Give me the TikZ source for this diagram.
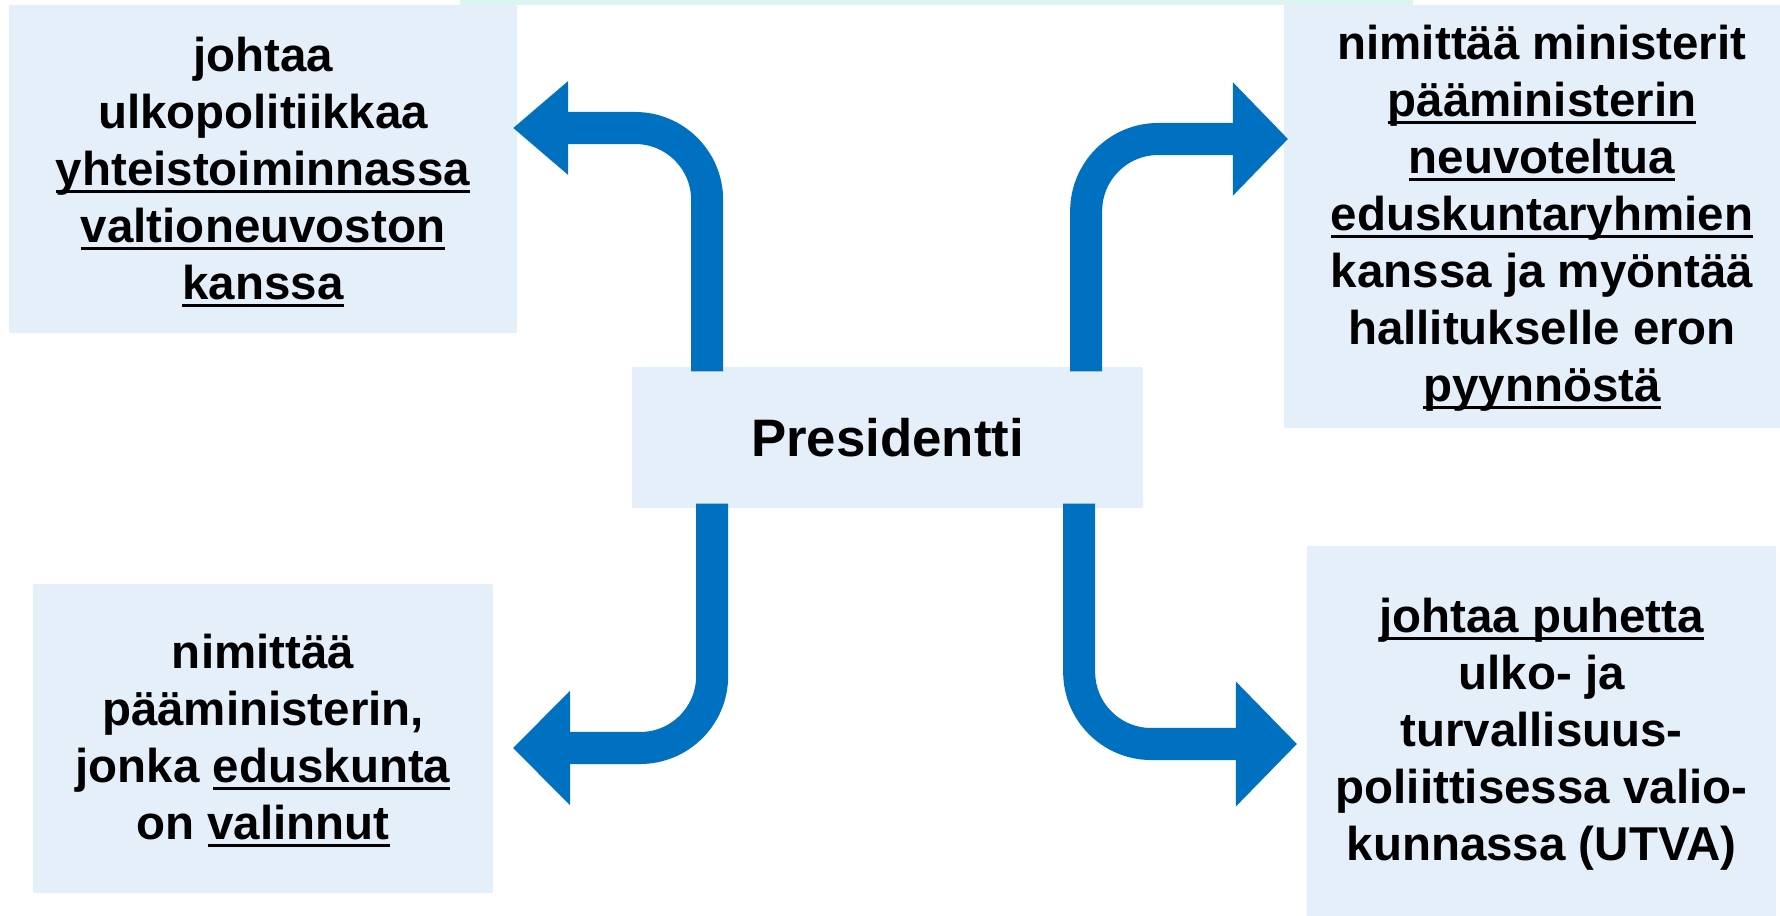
\documentclass[tikz,border=0pt]{standalone}
\usepackage{fontspec}
\setmainfont{Liberation Sans}
\usetikzlibrary{arrows.meta,calc}
\definecolor{boxblue}{HTML}{E4EFF9}
\definecolor{arrblue}{HTML}{0070C0}
\definecolor{mint}{HTML}{DDF5F0}
\newcommand\ul[1]{\setbox0\hbox{#1}\rlap{\rule[-0.16em]{\wd0}{0.065em}}\box0}
\begin{document}
\begin{tikzpicture}[x=0.01cm,y=-0.01cm,
  box/.style={fill=boxblue, inner sep=0pt, rounded corners=0.02cm},
  txt/.style={inner sep=0pt, align=center,
    font=\fontsize{13.5pt}{16.2pt}\selectfont\bfseries},
  arr/.style={draw=arrblue, line width=0.32cm, rounded corners=0.72cm}]
\useasboundingbox (0,0) rectangle (1780,916);
\fill[mint] (460,0) rectangle (1413,5);
% boxes
\node[box, minimum width=5.08cm, minimum height=3.28cm] (tl) at (263,169) {};
\node[box, minimum width=5.16cm, minimum height=4.23cm] (tr) at (1542,216.5) {};
\node[box, minimum width=4.60cm, minimum height=3.09cm] (bl) at (263,738.5) {};
\node[box, minimum width=4.69cm, minimum height=3.90cm] (br) at (1541.5,741) {};
\node[box, minimum width=5.11cm, minimum height=1.41cm] (p) at (887.5,437.5) {};
% texts
\node[txt] (tlt) at (tl.center |- 0,172.3)
  {johtaa\\ulkopolitiikkaa\\\ul{yhteistoiminnassa}\\\ul{valtioneuvoston}\\\ul{kanssa}};
\node[txt] (trt) at (tr.center |- 0,218.5)
  {nimittää ministerit\\\ul{pääministerin}\\\ul{neuvoteltua}\\\ul{eduskuntaryhmien}\\kanssa ja myöntää\\hallitukselle eron\\\ul{pyynnöstä}};
\node[txt] (blt) at (bl.center |- 0,740.8)
  {nimittää\\pääministerin,\\jonka \ul{eduskunta}\\on \ul{valinnut}};
\node[txt] (brt) at (br.center |- 0,734.5)
  {\ul{johtaa puhetta}\\ulko- ja\\turvallisuus-\\poliittisessa valio-\\kunnassa (UTVA)};
\node[txt, font=\fontsize{15pt}{18pt}\selectfont\bfseries] (pt) at (p.center) {Presidentti};
% arrows
\coordinate (tlT) at (513,128);
\coordinate (trT) at (1288,139);
\coordinate (blT) at (513,748);
\coordinate (brT) at (1297,744);
\draw[arr, -{Triangle[length=0.55cm,width=0.9cm]}] ($(p.north west)+(76,5)$) |- (tlT);
\draw[arr, -{Triangle[length=0.55cm,width=1.1cm]}] ($(p.north west)+(455,5)$) |- (trT);
\draw[arr, -{Triangle[length=0.57cm,width=1.11cm]}] ($(p.south west)+(81,-5)$) |- (blT);
\draw[arr, -{Triangle[length=0.61cm,width=1.21cm]}] ($(p.south west)+(448,-5)$) |- (brT);
\end{tikzpicture}
\end{document}
